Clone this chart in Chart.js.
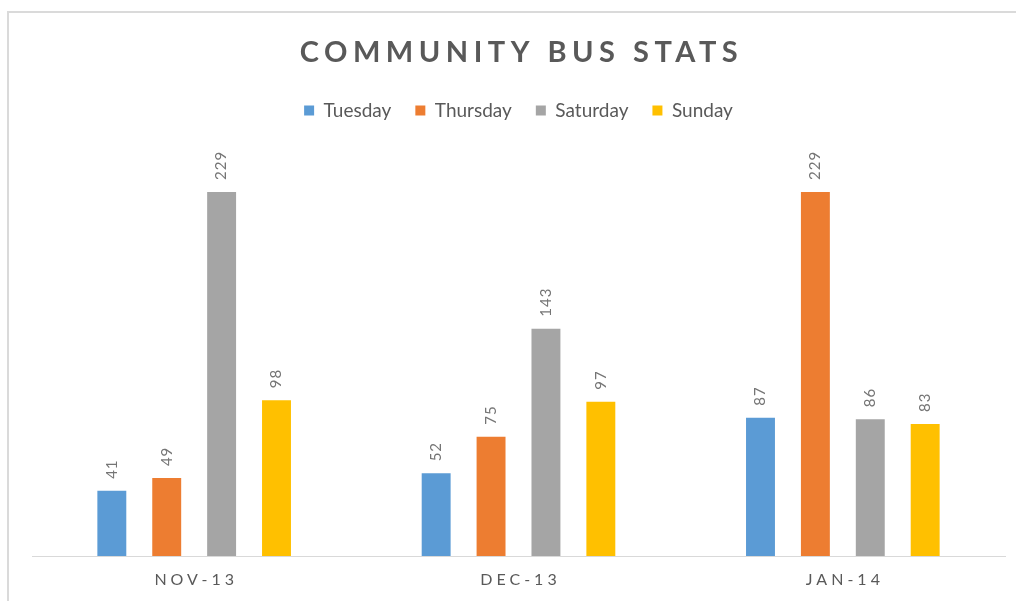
<!DOCTYPE html>
<html>
<head>
<meta charset="utf-8">
<script src="https://cdn.jsdelivr.net/npm/chart.js@4.4.1/dist/chart.umd.min.js"></script>
<style>
  html, body { margin: 0; padding: 0; background: #fff; overflow: hidden; }
  #frame { position: absolute; left: 7px; top: 11px; right: -10px; bottom: -10px; border: 2px solid #dadada; }
  #wrap { position: absolute; left: 0; top: 0; width: 1016px; height: 601px; }
</style>
</head>
<body>
<div id="frame"></div>
<div id="wrap"><canvas id="busChart"></canvas></div>
<script>
/* Community bus stats - clustered columns */

const months    = ['NOV-13', 'DEC-13', 'JAN-14'];
const tuesday   = [41, 52, 87];
const thursday  = [49, 75, 229];
const saturday  = [229, 143, 86];
const sunday    = [98, 97, 83];
const chartTitle = 'COMMUNITY BUS STATS';

const TEXT = '#595959';

// title with letter spacing, centred over the plot area
const titlePlugin = {
  id: 'spacedTitle',
  afterDraw(chart) {
    const { ctx, chartArea } = chart;
    ctx.save();
    ctx.font = 'bold 29px Lato';
    ctx.letterSpacing = '5.5px';
    ctx.fillStyle = TEXT;
    ctx.textAlign = 'center';
    ctx.textBaseline = 'middle';
    ctx.fillText(chartTitle, (chartArea.left + chartArea.right) / 2 + 3, 53);
    ctx.restore();
  }
};

// category labels under the axis, spaced out like the original
const monthLabels = {
  id: 'monthLabels',
  afterDraw(chart) {
    const { ctx } = chart;
    const xs = chart.scales.x;
    ctx.save();
    ctx.font = '16px Lato';
    ctx.letterSpacing = '4px';
    ctx.fillStyle = TEXT;
    ctx.textAlign = 'center';
    ctx.textBaseline = 'middle';
    months.forEach((m, i) => {
      ctx.fillText(m, xs.getPixelForValue(i) + 2, 580);
    });
    ctx.restore();
  }
};

// rotated value labels above each bar
const valueLabels = {
  id: 'valueLabels',
  afterDatasetsDraw(chart) {
    const { ctx } = chart;
    ctx.save();
    ctx.font = '15px Lato';
    ctx.letterSpacing = '1px';
    ctx.fillStyle = '#757575';
    ctx.textAlign = 'left';
    ctx.textBaseline = 'middle';
    chart.data.datasets.forEach((ds, di) => {
      chart.getDatasetMeta(di).data.forEach((bar, i) => {
        ctx.save();
        ctx.translate(bar.x, bar.y - 12);
        ctx.rotate(-Math.PI / 2);
        ctx.fillText(String(ds.data[i]), 0, 0);
        ctx.restore();
      });
    });
    ctx.restore();
  }
};

const ds = (label, data, color) => ({
  label, data,
  backgroundColor: color,
  borderWidth: 0,
  categoryPercentage: 0.677,
  barPercentage: 0.527
});

new Chart(document.getElementById('busChart'), {
  type: 'bar',
  data: {
    labels: months,
    datasets: [
      ds('Tuesday', tuesday, '#5b9bd5'),
      ds('Thursday', thursday, '#ed7d31'),
      ds('Saturday', saturday, '#a5a5a5'),
      ds('Sunday', sunday, '#ffc000')
    ]
  },
  options: {
    responsive: true,
    maintainAspectRatio: false,
    animation: false,
    layout: { padding: { top: 77, left: 32, right: 11, bottom: 37 } },
    plugins: {
      title: { display: false },
      tooltip: { enabled: false },
      legend: {
        position: 'top',
        labels: {
          color: TEXT,
          font: { family: 'Lato', size: 19 },
          boxWidth: 10,
          boxHeight: 10,
          padding: 24
        }
      }
    },
    scales: {
      x: {
        grid: { display: false },
        border: { display: true, color: '#d9d9d9', width: 1 },
        ticks: { display: false }
      },
      y: {
        display: false,
        min: 0,
        max: 268
      }
    }
  },
  plugins: [titlePlugin, monthLabels, valueLabels]
});
</script>
</body>
</html>
